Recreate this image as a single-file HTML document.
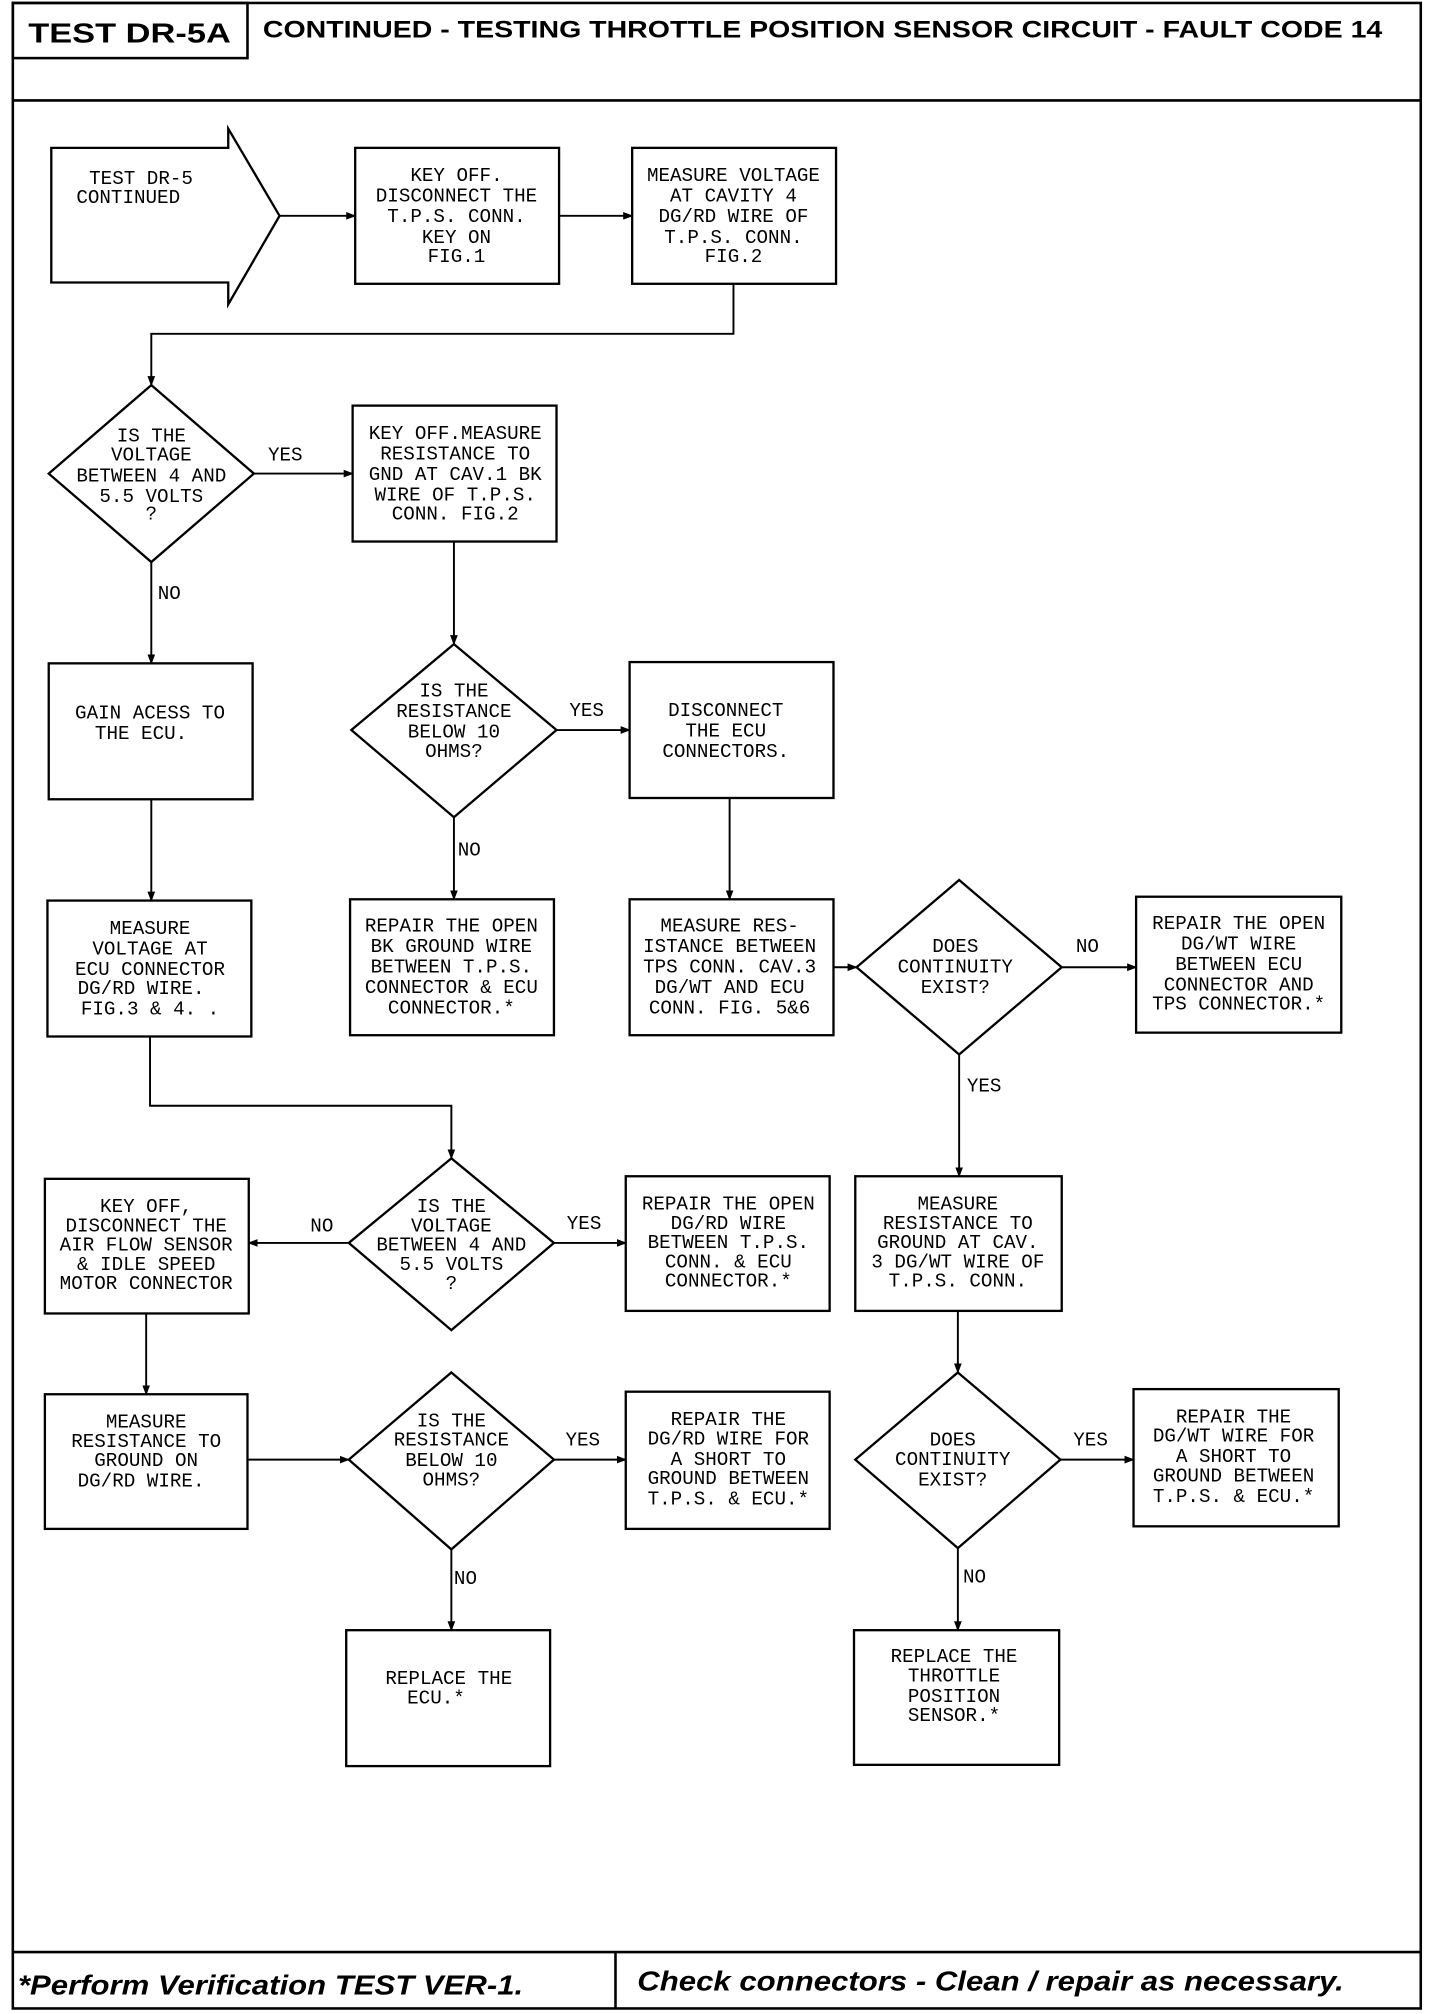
<!DOCTYPE html>
<html><head><meta charset="utf-8"><style>
html,body{margin:0;padding:0;background:#fff;}
svg{display:block;}
.t{font-family:"Liberation Mono",monospace;font-size:15px;fill:#000;text-anchor:middle;}
.l{font-family:"Liberation Mono",monospace;font-size:15px;fill:#000;}
</style></head><body>
<svg width="1440" height="2014" viewBox="0 0 1123 1570" xmlns="http://www.w3.org/2000/svg">
<defs><marker id="a" markerWidth="8" markerHeight="8" refX="7" refY="4" orient="auto" markerUnits="userSpaceOnUse"><path d="M0,1 L8,4 L0,7 Z" fill="#000"/></marker></defs>
<g fill="none" stroke="#000" stroke-width="2">
<rect x="10" y="2" width="1098" height="1564"/>
<rect x="10" y="2" width="183" height="43"/>
<line x1="10" y1="78" x2="1108" y2="78"/>
<line x1="10" y1="1522" x2="1108" y2="1522"/>
<line x1="480" y1="1522" x2="480" y2="1566"/>
</g>
<text x="101" y="33" font-family="Liberation Sans,sans-serif" font-weight="bold" font-size="22" text-anchor="middle" textLength="158" lengthAdjust="spacingAndGlyphs">TEST DR-5A</text>
<text x="205" y="29" font-family="Liberation Sans,sans-serif" font-weight="bold" font-size="19" textLength="873" lengthAdjust="spacingAndGlyphs">CONTINUED -  TESTING THROTTLE POSITION SENSOR CIRCUIT - FAULT CODE 14</text>
<text x="14" y="1555" font-family="Liberation Sans,sans-serif" font-weight="bold" font-style="italic" font-size="22" textLength="394" lengthAdjust="spacingAndGlyphs">*Perform Verification TEST VER-1.</text>
<text x="497" y="1552" font-family="Liberation Sans,sans-serif" font-weight="bold" font-style="italic" font-size="22" textLength="551" lengthAdjust="spacingAndGlyphs">Check connectors - Clean / repair as necessary.</text>

<g fill="none" stroke="#000" stroke-width="1.8">
<path d="M40,115 H178 V100 L218,168 L178,237 V220 H40 Z"/>
<rect x="277" y="115" width="159" height="106"/>
<rect x="493" y="115" width="159" height="106"/>
<polygon points="118,300 198,369 118,438 38,369"/>
<rect x="275" y="316" width="159" height="106"/>
<rect x="38" y="517" width="159" height="106"/>
<polygon points="354,502 434,569 354,637 274,569"/>
<rect x="491" y="516" width="159" height="106"/>
<rect x="273" y="701" width="159" height="106"/>
<rect x="491" y="701" width="159" height="106"/>
<polygon points="748,686 828,754 748,822 668,754"/>
<rect x="886" y="699" width="160" height="106"/>
<rect x="37" y="702" width="159" height="106"/>
<polygon points="352,903 432,969 352,1037 272,969"/>
<rect x="35" y="919" width="159" height="105"/>
<rect x="488" y="917" width="159" height="105"/>
<rect x="667" y="917" width="161" height="105"/>
<rect x="35" y="1087" width="158" height="105"/>
<polygon points="352,1070 432,1138 352,1208 272,1138"/>
<rect x="488" y="1085" width="159" height="107"/>
<rect x="270" y="1271" width="159" height="106"/>
<polygon points="747,1070 827,1138 747,1207 667,1138"/>
<rect x="884" y="1083" width="160" height="107"/>
<rect x="666" y="1271" width="160" height="105"/>
</g>
<g fill="none" stroke="#000" stroke-width="1.5" marker-end="url(#a)">
<line x1="218" y1="168" x2="277" y2="168"/>
<line x1="436" y1="168" x2="493" y2="168"/>
<path d="M572,221 V260 H118 V300"/>
<line x1="198" y1="369" x2="275" y2="369"/>
<line x1="118" y1="438" x2="118" y2="517"/>
<line x1="354" y1="422" x2="354" y2="502"/>
<line x1="434" y1="569" x2="491" y2="569"/>
<line x1="354" y1="637" x2="354" y2="701"/>
<line x1="569" y1="622" x2="569" y2="701"/>
<line x1="650" y1="754" x2="668" y2="754"/>
<line x1="828" y1="754" x2="886" y2="754"/>
<line x1="118" y1="623" x2="118" y2="702"/>
<line x1="748" y1="822" x2="748" y2="917"/>
<path d="M117,808 V862 H352 V903"/>
<line x1="272" y1="969" x2="194" y2="969"/>
<line x1="432" y1="969" x2="488" y2="969"/>
<line x1="747" y1="1022" x2="747" y2="1070"/>
<line x1="114" y1="1024" x2="114" y2="1087"/>
<line x1="193" y1="1138" x2="272" y2="1138"/>
<line x1="432" y1="1138" x2="488" y2="1138"/>
<line x1="352" y1="1208" x2="352" y2="1271"/>
<line x1="827" y1="1138" x2="884" y2="1138"/>
<line x1="747" y1="1207" x2="747" y2="1271"/>
</g>

<text class="t" x="110" y="143">TEST DR-5</text><text class="t" x="100" y="158">CONTINUED</text>
<g class="t">
<text x="356" y="141">KEY OFF.</text><text x="356" y="157">DISCONNECT THE</text><text x="356" y="173">T.P.S. CONN.</text><text x="356" y="189">KEY ON</text><text x="356" y="204">FIG.1</text>
<text x="572" y="141">MEASURE VOLTAGE</text><text x="572" y="157">AT CAVITY 4</text><text x="572" y="173">DG/RD WIRE OF</text><text x="572" y="189">T.P.S. CONN.</text><text x="572" y="204">FIG.2</text>
<text x="118" y="344">IS THE</text><text x="118" y="359">VOLTAGE</text><text x="118" y="375">BETWEEN 4 AND</text><text x="118" y="391">5.5 VOLTS</text><text x="118" y="405">?</text>
<text x="355" y="342">KEY OFF.MEASURE</text><text x="355" y="358">RESISTANCE TO</text><text x="355" y="374">GND AT CAV.1 BK</text><text x="355" y="390">WIRE OF T.P.S.</text><text x="355" y="405">CONN. FIG.2</text>
<text x="117" y="560">GAIN ACESS TO</text><text x="110" y="576">THE ECU.</text>
<text x="354" y="543">IS THE</text><text x="354" y="559">RESISTANCE</text><text x="354" y="575">BELOW 10</text><text x="354" y="590">OHMS?</text>
<text x="566" y="558">DISCONNECT</text><text x="566" y="574">THE ECU</text><text x="566" y="590">CONNECTORS.</text>
<text x="352" y="726">REPAIR THE OPEN</text><text x="352" y="742">BK GROUND WIRE</text><text x="352" y="758">BETWEEN T.P.S.</text><text x="352" y="774">CONNECTOR &amp; ECU</text><text x="352" y="790">CONNECTOR.*</text>
<text x="569" y="726">MEASURE RES-</text><text x="569" y="742">ISTANCE BETWEEN</text><text x="569" y="758">TPS CONN. CAV.3</text><text x="569" y="774">DG/WT AND ECU</text><text x="569" y="790">CONN. FIG. 5&amp;6</text>
<text x="745" y="742">DOES</text><text x="745" y="758">CONTINUITY</text><text x="745" y="774">EXIST?</text>
<text x="966" y="724">REPAIR THE OPEN</text><text x="966" y="740">DG/WT WIRE</text><text x="966" y="756">BETWEEN ECU</text><text x="966" y="772">CONNECTOR AND</text><text x="966" y="787">TPS CONNECTOR.*</text>
<text x="117" y="728">MEASURE</text><text x="117" y="744">VOLTAGE AT</text><text x="117" y="760">ECU CONNECTOR</text><text x="110" y="775">DG/RD WIRE.</text><text x="117" y="791">FIG.3 &amp; 4.   .</text>
<text x="352" y="945">IS THE</text><text x="352" y="960">VOLTAGE</text><text x="352" y="975">BETWEEN 4 AND</text><text x="352" y="990">5.5 VOLTS</text><text x="352" y="1005">?</text>
<text x="114" y="945">KEY OFF,</text><text x="114" y="960">DISCONNECT THE</text><text x="114" y="975">AIR FLOW SENSOR</text><text x="114" y="990">&amp; IDLE SPEED</text><text x="114" y="1005">MOTOR CONNECTOR</text>
<text x="568" y="943">REPAIR THE OPEN</text><text x="568" y="958">DG/RD WIRE</text><text x="568" y="973">BETWEEN T.P.S.</text><text x="568" y="988">CONN. &amp; ECU</text><text x="568" y="1003">CONNECTOR.*</text>
<text x="747" y="943">MEASURE</text><text x="747" y="958">RESISTANCE TO</text><text x="747" y="973">GROUND AT CAV.</text><text x="747" y="988">3 DG/WT WIRE OF</text><text x="747" y="1003">T.P.S. CONN.</text>
<text x="114" y="1113">MEASURE</text><text x="114" y="1128">RESISTANCE TO</text><text x="114" y="1143">GROUND ON</text><text x="110" y="1159">DG/RD WIRE.</text>
<text x="352" y="1112">IS THE</text><text x="352" y="1127">RESISTANCE</text><text x="352" y="1143">BELOW 10</text><text x="352" y="1158">OHMS?</text>
<text x="568" y="1111">REPAIR THE</text><text x="568" y="1126">DG/RD WIRE FOR</text><text x="568" y="1142">A SHORT TO</text><text x="568" y="1157">GROUND BETWEEN</text><text x="568" y="1173">T.P.S. &amp; ECU.*</text>
<text x="350" y="1313">REPLACE THE</text><text x="340" y="1328">ECU.*</text>
<text x="743" y="1127">DOES</text><text x="743" y="1142">CONTINUITY</text><text x="743" y="1158">EXIST?</text>
<text x="962" y="1109">REPAIR THE</text><text x="962" y="1124">DG/WT WIRE FOR</text><text x="962" y="1140">A SHORT TO</text><text x="962" y="1155">GROUND BETWEEN</text><text x="962" y="1171">T.P.S. &amp; ECU.*</text>
<text x="744" y="1296">REPLACE THE</text><text x="744" y="1311">THROTTLE</text><text x="744" y="1327">POSITION</text><text x="744" y="1342">SENSOR.*</text>
</g>
<g class="l">
<text x="209" y="359">YES</text><text x="123" y="467">NO</text>
<text x="444" y="558">YES</text><text x="357" y="667">NO</text>
<text x="839" y="742">NO</text><text x="754" y="851">YES</text>
<text x="242" y="960">NO</text><text x="442" y="958">YES</text>
<text x="441" y="1127">YES</text><text x="354" y="1235">NO</text>
<text x="837" y="1127">YES</text><text x="751" y="1234">NO</text>
</g>
</svg>
</body></html>
